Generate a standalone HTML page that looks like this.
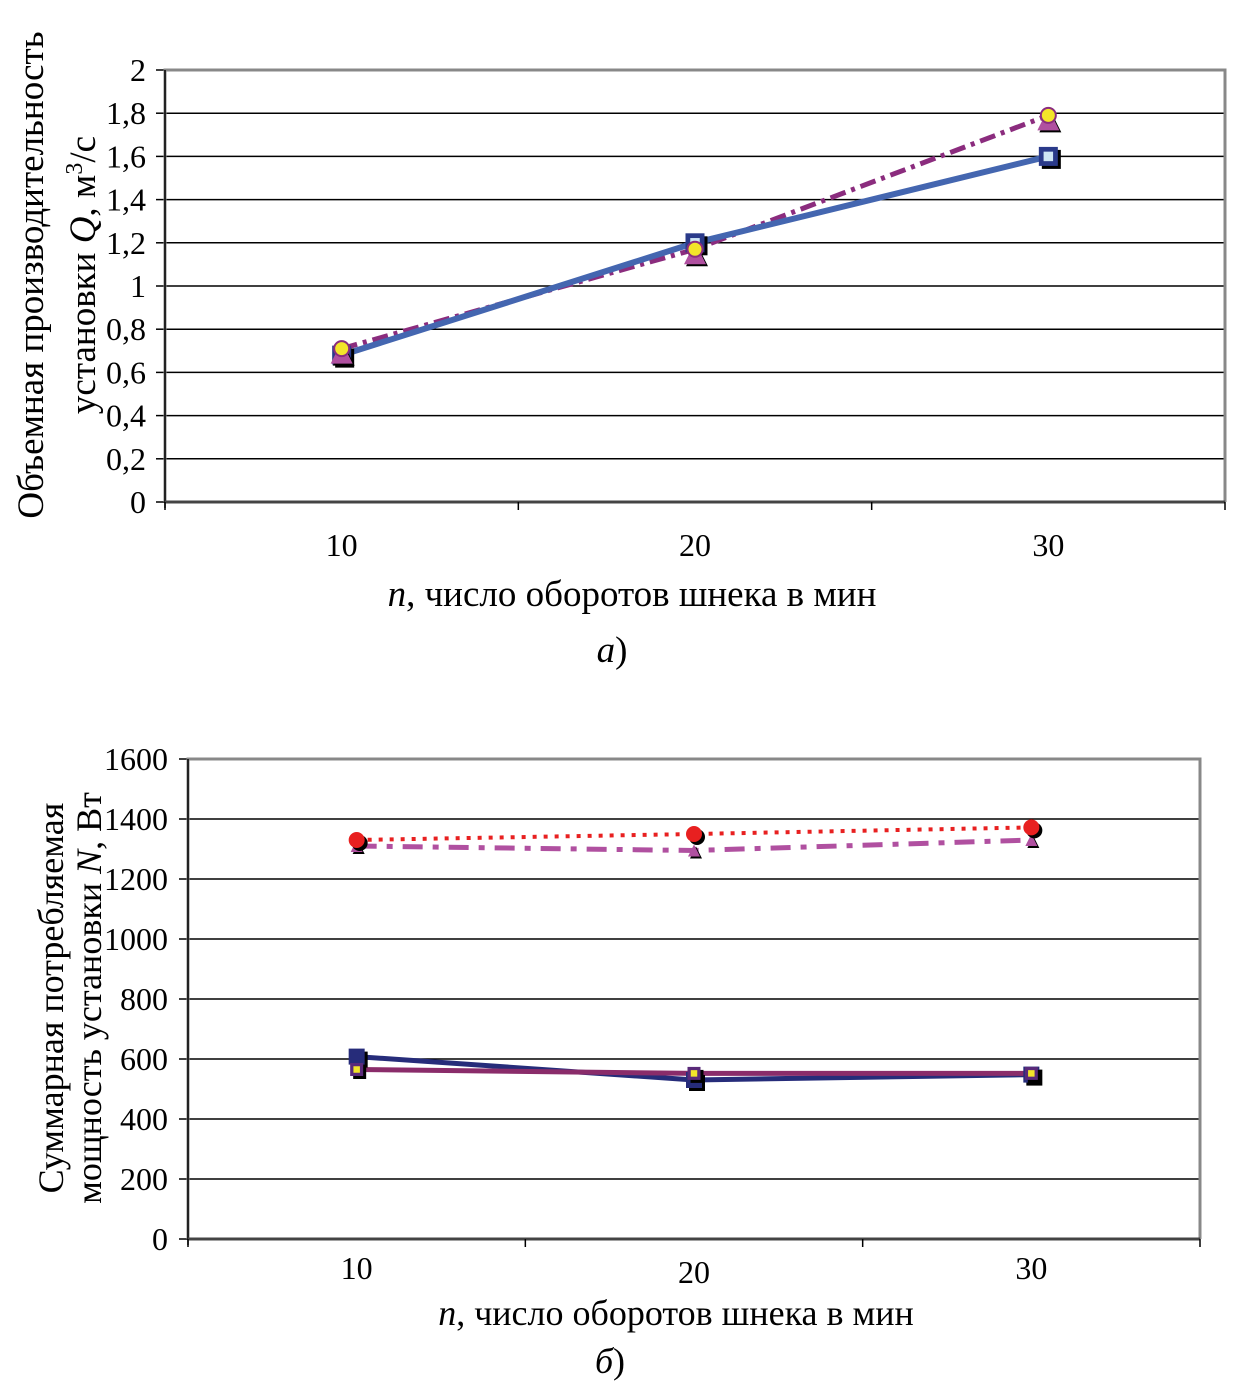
<!DOCTYPE html>
<html><head><meta charset="utf-8"><style>
html,body{margin:0;padding:0;background:#fff;}
svg{display:block;font-family:"Liberation Serif","DejaVu Serif",serif;}
</style></head><body>
<svg id="s" width="1246" height="1395" viewBox="0 0 1246 1395" xmlns="http://www.w3.org/2000/svg">
<g id="gA"></g>
<g id="gB"></g>
</svg>
<script>
const categories = [10, 20, 30];
const ticksA = ["0","0,2","0,4","0,6","0,8","1","1,2","1,4","1,6","1,8","2"];
const qSolid = [0.68, 1.20, 1.60];
const qDash = [0.71, 1.17, 1.79];
const ticksB = ["0","200","400","600","800","1000","1200","1400","1600"];
const nRed = [1330, 1350, 1372];
const nPurple = [1310, 1295, 1330];
const nNavy = [608, 530, 548];
const nMaroon = [565, 552, 552];

const NS = "http://www.w3.org/2000/svg";
function mk(parent, tag, attrs, text){
  const e = document.createElementNS(NS, tag);
  for (const k in attrs) e.setAttribute(k, attrs[k]);
  if (text !== undefined) e.textContent = text;
  parent.appendChild(e); return e;
}

function drawFrame(g, L, R, T, B, maxV, step, ticks, lblX, fs){
  const y = v => B - (v / maxV) * (B - T);
  const bw = (R - L) / categories.length;
  const x = i => L + bw * (i + 0.5);
  ticks.forEach((t, i) => {
    const v = i * step, yy = y(v);
    if (i > 0 && i < ticks.length - 1) {
      const gl = mk(g, "line", {x1:L, x2:R, y1:yy, y2:yy, stroke:"#000", "stroke-width":1.5});
      
      
    }
    mk(g, "line", {x1:L-9, x2:L, y1:yy, y2:yy, stroke:"#000", "stroke-width":1.5});
    const tl = mk(g, "text", {x:lblX, y:yy+11, "text-anchor":"end", "font-size":fs}, t);
    
    
  });
  mk(g, "path", {d:`M${L},${B} L${L},${T} L${R},${T} L${R},${B}`, fill:"none", stroke:"#888", "stroke-width":3});
  mk(g, "line", {x1:L, x2:L, y1:T, y2:B+6, stroke:"#000", "stroke-width":1.5});
  mk(g, "line", {x1:L, x2:R, y1:B, y2:B, stroke:"#444", "stroke-width":3});
  for (let i = 0; i <= categories.length; i++) {
    mk(g, "line", {x1:L+bw*i, x2:L+bw*i, y1:B, y2:B+8, stroke:"#000", "stroke-width":1.5});
  }
  return {x, y};
}

function series(g, xs, ys, vals, attrs, name){
  const d = vals.map((v,i)=>(i?"L":"M")+xs(i)+","+ys(v)).join(" ");
  const p = mk(g, "path", Object.assign({d, fill:"none"}, attrs));
  
  
}
function sq(g, cx, cy, s, fill, inner){
  mk(g, "rect", {x:cx-s/2+3, y:cy-s/2+3, width:s, height:s, fill:"#000"});
  const r = mk(g, "rect", {x:cx-s/2, y:cy-s/2, width:s, height:s, fill:fill});
  
  
  if (inner) mk(g, "rect", {x:cx-s/4, y:cy-s/4, width:s/2, height:s/2, fill:inner});
}
function tri(g, cx, cy, s, fill){
  mk(g, "polygon", {points:`${cx+2},${cy-s/2+2} ${cx+s/2+2},${cy+s/2+2} ${cx-s/2+2},${cy+s/2+2}`, fill:"#000"});
  const t = mk(g, "polygon", {points:`${cx},${cy-s/2} ${cx+s/2},${cy+s/2} ${cx-s/2},${cy+s/2}`, fill:fill});
  
  
}
function circ(g, cx, cy, r, fill, stroke){
  const c = mk(g, "circle", {cx, cy, r, fill, stroke:stroke||"none", "stroke-width":2});
  
  
}

// Chart A
const gA = document.getElementById("gA");
const A = drawFrame(gA, 165, 1225, 70, 502, 2, 0.2, ticksA, 146, 32);
series(gA, A.x, A.y, qDash, {stroke:"#8b2c7e", "stroke-width":5, "stroke-dasharray":"16,6,4,6"}, "line-q-dashdot");
series(gA, A.x, A.y, qSolid, {stroke:"#4466b0", "stroke-width":6}, "line-q-solid");
qSolid.forEach((v,i)=>sq(gA, A.x(i), A.y(v), 19, "#2a3a8a", "#cfe6f5"));
qDash.forEach((v,i)=>{tri(gA, A.x(i), A.y(v)+4, 22, "#b050a0"); circ(gA, A.x(i), A.y(v), 7.5, "#f3e52a", "#8b2c7e");});
categories.forEach((c,i)=>{
  const t = mk(gA, "text", {x:A.x(i), y:556, "text-anchor":"middle", "font-size":32}, c);
  
  
});
let t;
t = mk(gA, "text", {x:632, y:606, "text-anchor":"middle", "font-size":37});
t.innerHTML = '<tspan font-style="italic">n</tspan>, число оборотов шнека в мин';


t = mk(gA, "text", {x:612, y:662, "text-anchor":"middle", "font-size":37});
t.innerHTML = '<tspan font-style="italic">а</tspan>)';


t = mk(gA, "text", {x:0, y:0, "text-anchor":"middle", "font-size":37, transform:"translate(43,275) rotate(-90)"}, "Объемная производительность");


t = mk(gA, "text", {x:0, y:0, "text-anchor":"middle", "font-size":37, transform:"translate(95,275) rotate(-90)"});
t.innerHTML = 'установки <tspan font-style="italic">Q</tspan>, м<tspan dy="-13" font-size="24">3</tspan><tspan dy="13">/с</tspan>';



// Chart B
const gB = document.getElementById("gB");
const B = drawFrame(gB, 188, 1200, 759, 1239, 1600, 200, ticksB, 168, 32);
series(gB, B.x, B.y, nPurple, {stroke:"#b050a0", "stroke-width":5, "stroke-dasharray":"20,10,6,10"}, "line-n-dashdot");
series(gB, B.x, B.y, nRed, {stroke:"#e82020", "stroke-width":4, "stroke-dasharray":"4,7"}, "line-n-dotted");
series(gB, B.x, B.y, nNavy, {stroke:"#262c7a", "stroke-width":5}, "line-n-navy");
series(gB, B.x, B.y, nMaroon, {stroke:"#8a2c6a", "stroke-width":5}, "line-n-maroon");
nPurple.forEach((v,i)=>tri(gB, B.x(i), B.y(v), 12, "#b050a0"));
nRed.forEach((v,i)=>{mk(gB,"circle",{cx:B.x(i)+3,cy:B.y(v)+3,r:8,fill:"#000"}); circ(gB, B.x(i), B.y(v), 8, "#e82020");});
nNavy.forEach((v,i)=>sq(gB, B.x(i), B.y(v), 16, "#262c7a"));
nMaroon.forEach((v,i)=>sq(gB, B.x(i), B.y(v), 13, "#5a2a7a", "#f3e52a"));
categories.forEach((c,i)=>{
  const tt = mk(gB, "text", {x:B.x(i), y:i===1?1283:1279, "text-anchor":"middle", "font-size":32}, c);
  
  
});
t = mk(gB, "text", {x:676, y:1325, "text-anchor":"middle", "font-size":36});
t.innerHTML = '<tspan font-style="italic">n</tspan>, число оборотов шнека в мин';


t = mk(gB, "text", {x:610, y:1373, "text-anchor":"middle", "font-size":36});
t.innerHTML = '<tspan font-style="italic">б</tspan>)';


t = mk(gB, "text", {x:0, y:0, "text-anchor":"middle", "font-size":36, transform:"translate(63,998) rotate(-90)"}, "Суммарная потребляемая");


t = mk(gB, "text", {x:0, y:0, "text-anchor":"middle", "font-size":36, transform:"translate(101,998) rotate(-90)"});
t.innerHTML = 'мощность установки <tspan font-style="italic">N</tspan>, Вт';


</script>
</body></html>
